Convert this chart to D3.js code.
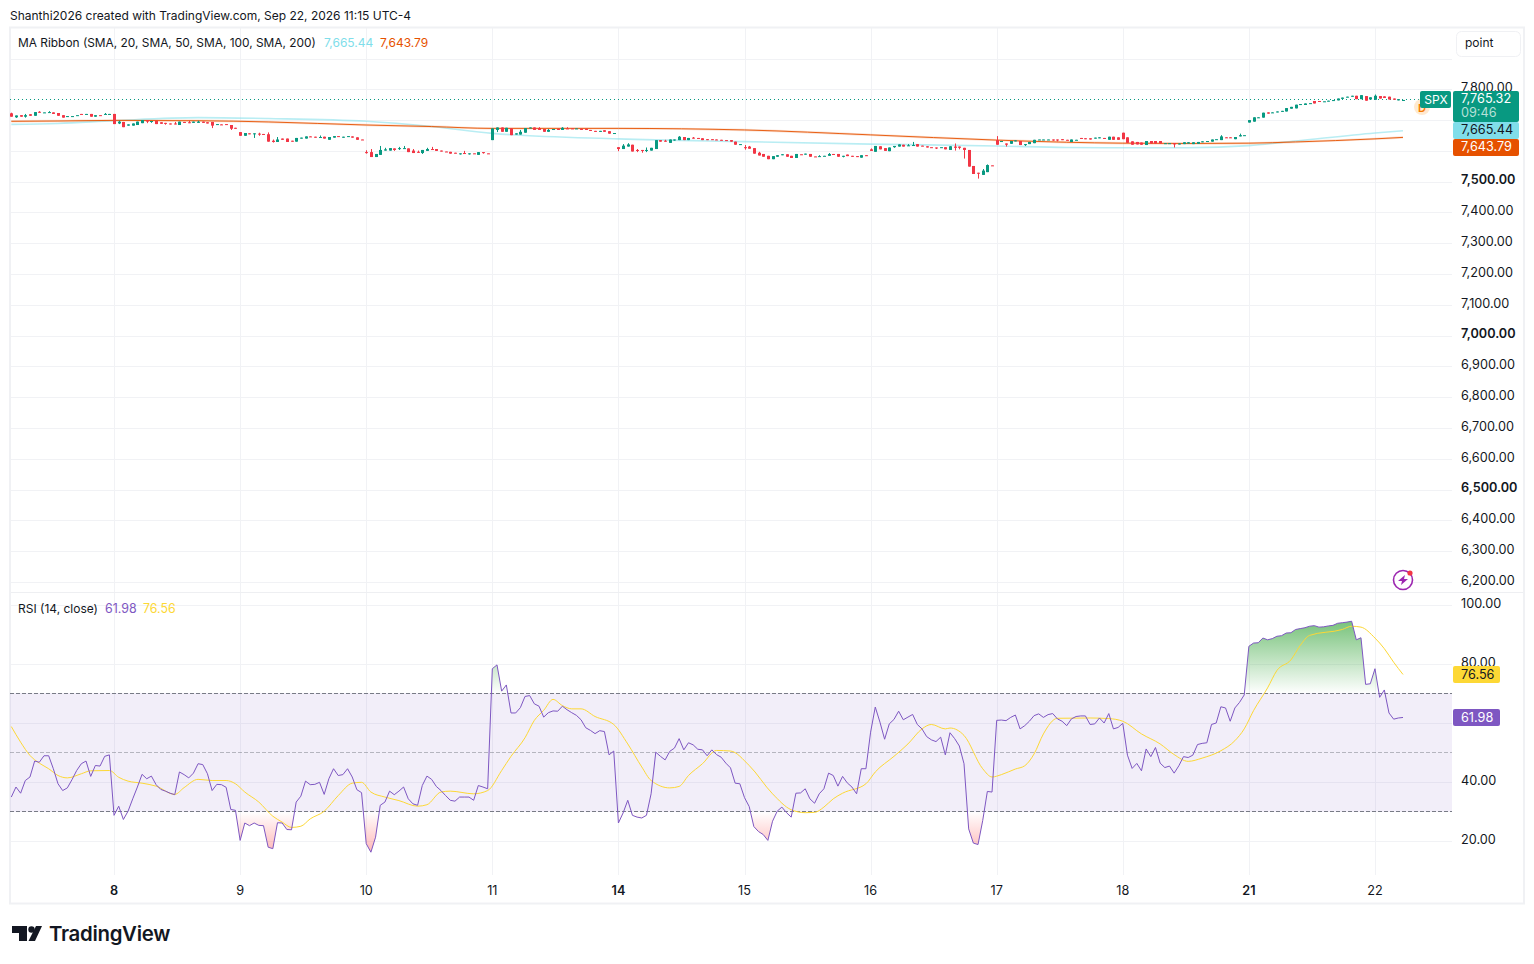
<!DOCTYPE html>
<html>
<head>
<meta charset="utf-8">
<script src="https://cdn.jsdelivr.net/npm/d3@7"></script>
<style>
    html, body { margin: 0; padding: 0; background: #fff; }
    svg { display: block; font-family: Inter, "Noto Sans", sans-serif; }
    text { fill: #131722; }
</style>
</head>
<body>
<svg id="chart" width="1534" height="964"></svg>
<script>
// 15 minute bars, one line per session
const barOpen = [
    7722,7709,7716,7711,7719,7714,7727,7724,7724,7725,7723,7716,7711,7712,7715,7720,7719,7720,7711,7716,7719,7719,
    7720,7689,7694,7682,7682,7684,7690,7700,7695,7698,7693,7691,7689,7689,7684,7694,7693,7691,7691,7695,7693,7694,7685,7686,7687,7684,7675,
    7661,7649,7657,7655,7656,7655,7654,7633,7629,7640,7640,7633,7630,7640,7640,7647,7646,7644,7646,7636,7643,7648,7643,7646,7647,7644,7637,
    7596,7596,7580,7587,7601,7601,7608,7607,7607,7608,7601,7597,7593,7600,7606,7606,7601,7598,7597,7594,7591,7593,7591,7592,7587,7596,7592,
    7635,7668,7676,7662,7673,7653,7653,7659,7674,7676,7674,7671,7662,7669,7672,7668,7673,7673,7672,7672,7672,7668,7665,7662,7667,7664,7656,
    7612,7606,7614,7620,7603,7603,7601,7601,7606,7635,7633,7626,7635,7635,7645,7635,7643,7642,7641,7638,7638,7637,7636,7635,7635,7630,7620,
    7612,7614,7609,7594,7590,7584,7573,7581,7586,7589,7584,7577,7589,7588,7590,7582,7581,7583,7584,7590,7590,7582,7588,7584,7583,7578,7586,
    7605,7597,7615,7609,7599,7612,7614,7620,7616,7617,7622,7617,7615,7612,7611,7611,7612,7603,7614,7614,7610,7603,7551,7529,7522,7531,7553,
    7635,7630,7624,7623,7631,7632,7620,7622,7625,7636,7636,7636,7637,7637,7638,7636,7629,7635,7642,7641,7641,7640,7641,7642,7636,7646,7644,
    7659,7644,7631,7629,7627,7619,7632,7632,7632,7624,7624,7625,7621,7622,7624,7622,7623,7628,7631,7630,7637,7635,7644,7644,7638,7647,7650,
    7692,7695,7707,7708,7725,7723,7725,7727,7728,7737,7738,7750,7749,7754,7762,7762,7760,7761,7763,7764,7769,7774,7776,7779,7768,7778,7767,
    7766,7778,7777,7776,7770,7764,7764
];
const barClose = [
    7711,7715,7711,7716,7714,7726,7724,7725,7726,7720,7714,7708,7713,7713,7716,7719,7720,7711,7716,7715,7720,7720,
    7687,7695,7677,7686,7689,7695,7700,7695,7697,7687,7688,7688,7686,7686,7695,7691,7690,7695,7695,7691,7689,7682,7687,7684,7685,7672,7672,
    7649,7658,7654,7657,7653,7653,7630,7629,7637,7636,7629,7630,7642,7643,7647,7645,7643,7645,7640,7645,7648,7646,7646,7648,7643,7636,7636,
    7593,7580,7590,7603,7605,7609,7603,7609,7609,7596,7593,7594,7603,7606,7603,7600,7598,7597,7591,7592,7592,7591,7592,7591,7596,7593,7591,
    7673,7676,7662,7675,7651,7657,7662,7674,7676,7668,7668,7662,7668,7671,7668,7675,7672,7672,7673,7668,7668,7665,7662,7665,7662,7656,7658,
    7606,7617,7621,7598,7600,7600,7603,7610,7635,7630,7630,7637,7637,7646,7635,7642,7640,7640,7635,7635,7636,7635,7634,7633,7630,7620,7622,
    7610,7607,7591,7585,7581,7573,7583,7586,7589,7581,7577,7590,7588,7591,7581,7581,7583,7584,7590,7588,7581,7584,7583,7581,7580,7586,7584,
    7600,7616,7605,7600,7611,7616,7621,7614,7618,7619,7614,7615,7611,7611,7609,7612,7605,7615,7610,7610,7603,7549,7525,7527,7536,7554,7552,
    7620,7632,7620,7632,7634,7619,7622,7629,7636,7637,7637,7637,7636,7635,7635,7634,7637,7636,7640,7638,7637,7643,7644,7640,7646,7636,7636,
    7638,7626,7620,7621,7620,7632,7624,7624,7624,7625,7625,7621,7624,7628,7628,7628,7629,7631,7632,7637,7638,7647,7642,7642,7645,7651,7651,
    7700,7709,7709,7724,7721,7725,7728,7730,7739,7743,7750,7752,7754,7755,7754,7759,7761,7763,7765,7770,7773,7776,7779,7768,7781,7763,7774,
    7779,7770,7772,7767,7766,7768,7765.32
];
// wicks that stick out of the body, by bar number
const barHigh = {0:7724,3:7720,6:7729,8:7729,20:7723,23:7698,35:7694,38:7698,40:7698,53:7659,55:7660,56:7637,57:7645,66:7650,
    76:7602,77:7606,79:7616,80:7610,83:7613,84:7616,86:7606,87:7601,89:7610,90:7613,97:7600,109:7668,113:7677,115:7671,118:7677,119:7677,
    131:7622,132:7625,134:7606,136:7611,140:7636,143:7648,146:7645,157:7619,158:7616,160:7597,173:7586,175:7593,184:7608,192:7622,193:7629,
    202:7624,208:7541,209:7556,211:7648,259:7651,263:7656,292:7783};
const barLow = {1:7707,3:7708,23:7687,29:7690,30:7691,33:7685,43:7674,47:7668,52:7642,53:7649,56:7627,76:7591,82:7600,83:7603,88:7590,
    96:7588,98:7588,101:7591,104:7661,130:7599,134:7596,135:7594,136:7596,142:7633,157:7604,178:7579,189:7610,198:7606,202:7601,203:7605,
    204:7575,207:7510,211:7620,213:7614,217:7616,223:7633,224:7631,249:7611};

// MA ribbon, read every few bars
const maBars = [0,10,22,40,55,76,90,103,130,157,184,211,226,238,252,265,275,292,298];
const maFast = [7686,7689,7698,7708,7705,7696,7679,7657,7639,7630,7622,7616,7611,7610,7610,7617,7632,7658,7665.44];
const maSlow = [7696,7697,7699,7698,7694,7684,7679,7673,7673,7668,7652,7635,7628,7625,7624,7625,7629,7639,7643.79];

const rsiValues = [
    35,38.4,36.3,40.6,41.8,47.2,46.8,49,49,44.6,39.5,37.2,38.1,40.9,44,46.3,47.2,42,45.7,45.5,48.8,49.3,
    28.8,31.9,27.4,30.2,34.4,38.4,42.7,41.2,42.1,39.2,37.6,37,36.3,35.8,43.5,42.6,41.5,43.1,46.3,46,42.9,37.2,39.3,39.2,38.3,30.8,30.5,
    20.3,26.2,25.3,26.2,25.4,25.3,18,17.5,26.3,26.2,24,23.9,33.3,35.3,40.4,39.2,39.3,40,35.9,41.2,44.6,42.3,42.6,44.6,41.8,37.5,36.5,
    19.2,16.3,21.4,32.2,33.3,37,35.8,37,38.4,34.4,32.7,32.2,38.9,42.1,41,38.6,37.2,35.5,33.9,33.6,35,35,35,33.9,38.9,38.4,37.8,
    78.5,79.8,70.9,73,63.5,63.5,65.3,69.1,69.4,66.6,65.8,62.1,63.6,64.2,64.1,65.8,64.6,63.6,62.7,61.2,58.5,57.6,56.5,57.5,57.2,49.3,50.6,
    26.2,29.6,33.9,28.8,28.2,27.9,28.8,36.1,50.2,48.8,47.6,50.5,51.6,54.8,51,53.4,52.7,51.2,51,49,51,49.4,48.5,46.5,44.9,39.7,39.5,
    34.8,31.8,25,23.3,22.3,20.3,26.8,30.2,31.6,29.7,28.2,36.3,36.4,37.8,34.4,32.9,36.1,37.8,43.1,42.3,38.7,42,39.8,38.4,36.1,44.6,44.6,
    57,65.5,60.4,54.6,59.8,61.3,64.1,61.2,62.1,63,59.6,58.1,55.5,54.4,53.8,55.3,49.3,56.8,54.8,52.3,46.3,24.2,19.4,18.9,27,36.9,36.7,
    61,61.1,60.9,62,62.8,58.1,59.2,60.7,62.6,63.2,62,62.95,63.3,61.5,60.7,59.2,61.5,62.3,62.5,62.5,59.6,59.8,61.8,60.1,63.3,58.1,58.6,
    60,49.2,44.7,46.4,43.9,51.3,48.7,51.8,46.5,45,45.5,43.1,45.6,48.7,48.4,49.2,52.8,53.2,53.4,59.6,60.1,65.6,65.2,60.7,65.2,67.1,69.6,
    86.1,87.2,87.3,88.9,88.3,88.7,89.5,89.7,90.6,90.7,91.8,92.1,92.4,92.9,93.1,92.6,92.7,93,93.2,93.9,94.1,94.3,94.6,88.3,89,73.2,73.4,
    78.5,68.8,71.3,63.5,61.4,61.8,61.98
];
// RSI moving average, read at its bends
const rsiMaBars = [0,2,4,6,8,10,12,15,17,21,23,25,28,31,35,37,40,43,46,48,50,53,56,58,60,62,64,67,70,73,75,77,80,83,87,89,92,94,99,102,
    105,107,110,112,114,116,118,120,122,125,129,132,135,137,141,143,145,148,151,154,158,163,167,170,172,174,176,178,183,185,189,192,195,197,200,201,204,208,210,
    212,215,217,219,221,224,231,235,238,242,246,249,252,255,259,262,264,266,269,271,274,276,278,285,287,289,292,294,296,298];
const rsiMaValues = [58.9,53.6,49.1,46.5,44.6,42.3,41.5,42.9,43.9,44,41.7,40.4,39.7,38.7,35.9,38.2,41,40.6,40.6,39.5,36.7,33.3,28.5,26.5,24.7,25.1,27.6,30.2,35.5,39.7,40,36.7,35,33.8,31.9,32.4,36.7,37,36.1,37.2,
    44,48.8,55.1,61,64.4,68.1,66,64.9,64.9,62.3,59.6,53,45.2,40.6,38.1,38.6,42.3,46.3,50.8,50.6,45.7,36.1,30.7,29.7,29.8,31.6,34.4,36.3,39.5,43.5,48.8,53,58.1,59.6,58.1,58.4,55.9,44.6,41.8,
    42.6,44.5,45.6,49.6,56.4,61.7,61.8,61.6,60.7,56.4,53,49.4,47.1,48.2,50.7,54.1,58.1,64.3,72,77.9,81.5,86.4,89.8,91.8,92.9,92.6,88.9,85.3,80.7,76.56];

// axis labels
const dayBars = [22,49,76,103,130,157,184,211,238,265,292];
const dayLabels = ["8","9","10","11","14","15","16","17","18","21","22"];
const boldDays = ["8","14","21"];
const priceTicks = d3.range(6200, 7900, 100);
const priceGrid = d3.range(6200, 8000, 100);
const rsiTicks = [20, 40, 60, 80, 100];

const lastPrice = 7765.32, lastFast = 7665.44, lastSlow = 7643.79;
const lastRsi = 61.98, lastRsiMa = 76.56;

const green = "#089981", red = "#f23645", gridColor = "#f1f2f5";
const cyan = "#80deea", orange = "#e65100", purple = "#7e57c2", yellow = "#fdd835";

const left = 10, plotRight = 1452, right = 1524;
const priceTop = 58.5, priceBottom = 582, rsiTop = 605.3, rsiBottom = 841.3, timeTop = 875;

const x = d3.scaleLinear().domain([0, 298]).range([11.3, 1403]);
const yPrice = d3.scaleLinear().domain([6200, 7900]).range([priceBottom, priceTop]);
const yRsi = d3.scaleLinear().domain([20, 100]).range([rsiBottom, rsiTop]);

const svg = d3.select("#chart");
const defs = svg.append("defs");

svg.append("text").attr("x", 10).attr("y", 19.5).attr("font-size", 12)
    .text("Shanthi2026 created with TradingView.com, Sep 22, 2026 11:15 UTC-4");

// frame and grid
const grid = svg.append("g").attr("stroke", gridColor).attr("stroke-width", 1);
grid.selectAll(".v").data(dayBars).join("line")
    .attr("x1", d => Math.round(x(d)) + 0.5).attr("x2", d => Math.round(x(d)) + 0.5)
    .attr("y1", 27).attr("y2", timeTop);
grid.selectAll(".p").data(priceGrid).join("line")
    .attr("x1", left).attr("x2", plotRight)
    .attr("y1", d => Math.round(yPrice(d)) + 0.5).attr("y2", d => Math.round(yPrice(d)) + 0.5);
grid.selectAll(".r").data(rsiTicks).join("line")
    .attr("x1", left).attr("x2", plotRight)
    .attr("y1", d => Math.round(yRsi(d)) + 0.5).attr("y2", d => Math.round(yRsi(d)) + 0.5);
svg.append("line").attr("x1", left).attr("x2", right).attr("y1", 592.5).attr("y2", 592.5).attr("stroke", "#eeeff2");
svg.append("rect").attr("x", left).attr("y", 27.5).attr("width", right - left).attr("height", 876)
    .attr("fill", "none").attr("stroke", "#f0f1f4").attr("stroke-width", 2);

// MA ribbon
const maLine = values => d3.line()
    .x((d, i) => x(d))
    .y((d, i) => yPrice(values[i]))
    .curve(d3.curveMonotoneX)(maBars);
svg.append("path").attr("d", maLine(maFast)).attr("fill", "none").attr("stroke", cyan).attr("stroke-width", 1.6).attr("opacity", 0.55);
svg.append("path").attr("d", maLine(maSlow)).attr("fill", "none").attr("stroke", orange).attr("stroke-width", 2.4).attr("opacity", 0.18);
svg.append("path").attr("d", maLine(maSlow)).attr("fill", "none").attr("stroke", orange).attr("stroke-width", 0.9);

// last price line
svg.append("line").attr("x1", left).attr("x2", 1420)
    .attr("y1", Math.round(yPrice(lastPrice)) - 0.5).attr("y2", Math.round(yPrice(lastPrice)) - 0.5)
    .attr("stroke", green).attr("stroke-dasharray", "1 3");

// candles
const candles = svg.append("g");
const bars = d3.range(barOpen.length);
const barColor = i => barClose[i] >= barOpen[i] ? green : red;
candles.selectAll(".wick").data(bars).join("line")
    .attr("x1", i => Math.round(x(i)) + 0.5).attr("x2", i => Math.round(x(i)) + 0.5)
    .attr("y1", i => yPrice(barHigh[i] ?? Math.max(barOpen[i], barClose[i])))
    .attr("y2", i => yPrice(barLow[i] ?? Math.min(barOpen[i], barClose[i])))
    .attr("stroke", barColor);
candles.selectAll(".body").data(bars).join("rect")
    .attr("x", i => Math.round(x(i)) - 1)
    .attr("width", 3)
    .attr("y", i => yPrice(Math.max(barOpen[i], barClose[i])))
    .attr("height", i => Math.max(1, Math.abs(yPrice(barOpen[i]) - yPrice(barClose[i]))))
    .attr("fill", barColor);

// RSI band
svg.append("rect").attr("x", left).attr("width", plotRight - left)
    .attr("y", Math.floor(yRsi(70))).attr("height", Math.floor(yRsi(30)) - Math.floor(yRsi(70)) + 1)
    .attr("fill", purple).attr("fill-opacity", 0.1);
[[70, 1], [50, 0.5], [30, 1]].forEach(([level, alpha]) => {
    svg.append("line").attr("x1", left).attr("x2", plotRight)
        .attr("y1", Math.floor(yRsi(level)) + 0.5).attr("y2", Math.floor(yRsi(level)) + 0.5)
        .attr("stroke", "#787b86").attr("stroke-opacity", alpha).attr("stroke-dasharray", "4 2");
});

// over bought and over sold fills
function addGradient(id, color, yStart, yEnd, startAlpha, endAlpha) {
    const g = defs.append("linearGradient").attr("id", id).attr("gradientUnits", "userSpaceOnUse")
        .attr("x1", 0).attr("x2", 0).attr("y1", yStart).attr("y2", yEnd);
    g.append("stop").attr("offset", 0).attr("stop-color", color).attr("stop-opacity", startAlpha);
    g.append("stop").attr("offset", 1).attr("stop-color", color).attr("stop-opacity", endAlpha);
}
addGradient("obFill", "#4caf50", yRsi(100), yRsi(70), 0.92, 0);
addGradient("osFill", "#ff5252", yRsi(30), yRsi(0), 0, 0.9);
defs.append("clipPath").attr("id", "obClip").append("rect")
    .attr("x", left).attr("width", plotRight - left).attr("y", yRsi(100)).attr("height", yRsi(70) - yRsi(100));
defs.append("clipPath").attr("id", "osClip").append("rect")
    .attr("x", left).attr("width", plotRight - left).attr("y", yRsi(30)).attr("height", 60);

const rsiArea = level => d3.area()
    .x(i => x(i)).y0(yRsi(level)).y1(i => yRsi(rsiValues[i]))(bars);
svg.append("path").attr("d", rsiArea(70)).attr("fill", "url(#obFill)").attr("clip-path", "url(#obClip)");
svg.append("path").attr("d", rsiArea(30)).attr("fill", "url(#osFill)").attr("clip-path", "url(#osClip)");

svg.append("path")
    .attr("d", d3.line().x((d, i) => x(d)).y((d, i) => yRsi(rsiMaValues[i])).curve(d3.curveMonotoneX)(rsiMaBars))
    .attr("fill", "none").attr("stroke", yellow).attr("stroke-width", 1);
svg.append("path")
    .attr("d", d3.line().x(i => x(i)).y(i => yRsi(rsiValues[i]))(bars))
    .attr("fill", "none").attr("stroke", purple).attr("stroke-width", 1);

// axes
const priceAxis = svg.append("g").attr("transform", `translate(${plotRight},0)`)
    .call(d3.axisRight(yPrice).tickValues(priceTicks).tickSize(0).tickPadding(9).tickFormat(d3.format(",.2f")));
const rsiAxis = svg.append("g").attr("transform", `translate(${plotRight},0)`)
    .call(d3.axisRight(yRsi).tickValues(rsiTicks).tickSize(0).tickPadding(9).tickFormat(d3.format(".2f")));
const timeAxis = svg.append("g").attr("transform", `translate(-0.5,${timeTop})`)
    .call(d3.axisBottom(x).tickValues(dayBars).tickSize(0).tickPadding(11).tickFormat((d, i) => dayLabels[i]));
[priceAxis, rsiAxis, timeAxis].forEach(a => {
    a.select(".domain").remove();
    a.selectAll("text").attr("font-family", "Inter, sans-serif").attr("font-size", 12.7).attr("fill", "#131722");
});
priceAxis.selectAll("text").attr("dy", "0.18em")
    .attr("font-weight", d => d % 500 === 0 ? 600 : 400);
rsiAxis.selectAll("text").attr("dy", "0.2em");
timeAxis.selectAll("text").attr("font-weight", (d, i) => boldDays.includes(dayLabels[i]) ? 600 : 400);

// legends
const legend = (xPos, yPos, label, color, size) => svg.append("text").attr("x", xPos).attr("y", yPos)
    .attr("font-size", size).style("fill", color).text(label);
legend(18, 46.5, "MA Ribbon (SMA, 20, SMA, 50, SMA, 100, SMA, 200)", "#131722", 11.9);
legend(324, 46.5, d3.format(",.2f")(lastFast), cyan, 12);
legend(380, 46.5, d3.format(",.2f")(lastSlow), orange, 12);
legend(18, 612.5, "RSI (14, close)", "#131722", 12);
legend(105, 612.5, d3.format(".2f")(lastRsi), purple, 12.4);
legend(143, 612.5, d3.format(".2f")(lastRsiMa), yellow, 12.4);

svg.append("rect").attr("x", 1456.5).attr("y", 31.5).attr("width", 64).attr("height", 25).attr("rx", 5)
    .attr("fill", "#fff").attr("stroke", "#f0f1f4");
svg.append("text").attr("x", 1465).attr("y", 47).attr("font-size", 12).text("point");

// dividend badge sits under the SPX tag
svg.append("circle").attr("cx", 1422).attr("cy", 107).attr("r", 8).attr("fill", "#ffe9cf");
svg.append("text").attr("x", 1422).attr("y", 112).attr("text-anchor", "middle")
    .attr("font-size", 11).attr("font-weight", 600).style("fill", "#f57c00").text("D");

// price tags
const tag = (xPos, yPos, w, h, color) => svg.append("rect").attr("x", xPos).attr("y", yPos)
    .attr("width", w).attr("height", h).attr("rx", 2).attr("fill", color);
const tagText = (xPos, yPos, label, color) => svg.append("text").attr("x", xPos).attr("y", yPos)
    .attr("font-size", 12.7).style("fill", color).text(label);
tag(1420, 91, 31, 17, green);
svg.append("text").attr("x", 1436).attr("y", 104).attr("text-anchor", "middle").attr("font-size", 12).style("fill", "#fff").text("SPX");
tag(1453, 91, 66, 31, green);
tagText(1461, 103, d3.format(",.2f")(lastPrice), "#fff");
tagText(1461, 117, "09:46", "#b5e0d8");
tag(1453, 122, 66, 17, cyan);
tagText(1461, 134, d3.format(",.2f")(lastFast), "#131722");
tag(1453, 139, 66, 17, orange);
tagText(1461, 151, d3.format(",.2f")(lastSlow), "#fff");
tag(1453, 666, 47, 17, yellow);
tagText(1461, 679, d3.format(".2f")(lastRsiMa), "#131722");
tag(1453, 709, 47, 17, purple);
tagText(1461, 722, d3.format(".2f")(lastRsi), "#fff");

// lightning icon
const bolt = svg.append("g").attr("transform", "translate(1403,580)");
bolt.append("circle").attr("r", 9.5).attr("fill", "#fff").attr("stroke", "#9c27b0").attr("stroke-width", 1.6);
bolt.append("path").attr("d", "M2,-5 L-5,1 L-1,1 L-2,5 L5,-1 L1,-1 Z").attr("fill", "#9c27b0");
bolt.append("circle").attr("cx", 7).attr("cy", -7).attr("r", 2.6).attr("fill", "#f23645");

// logo
const logo = svg.append("g").attr("fill", "#131722");
logo.append("path").attr("d", "M12,926 H27 V941 H19 V933 H12 Z");
logo.append("circle").attr("cx", 31.5).attr("cy", 929.5).attr("r", 3.2);
logo.append("path").attr("d", "M36,926 H42 L35,941 H28.5 Z");
svg.append("text").attr("x", 49).attr("y", 941).attr("font-size", 20.4).attr("font-weight", 600)
    .attr("letter-spacing", "-0.3").text("TradingView");
</script>
</body>
</html>
